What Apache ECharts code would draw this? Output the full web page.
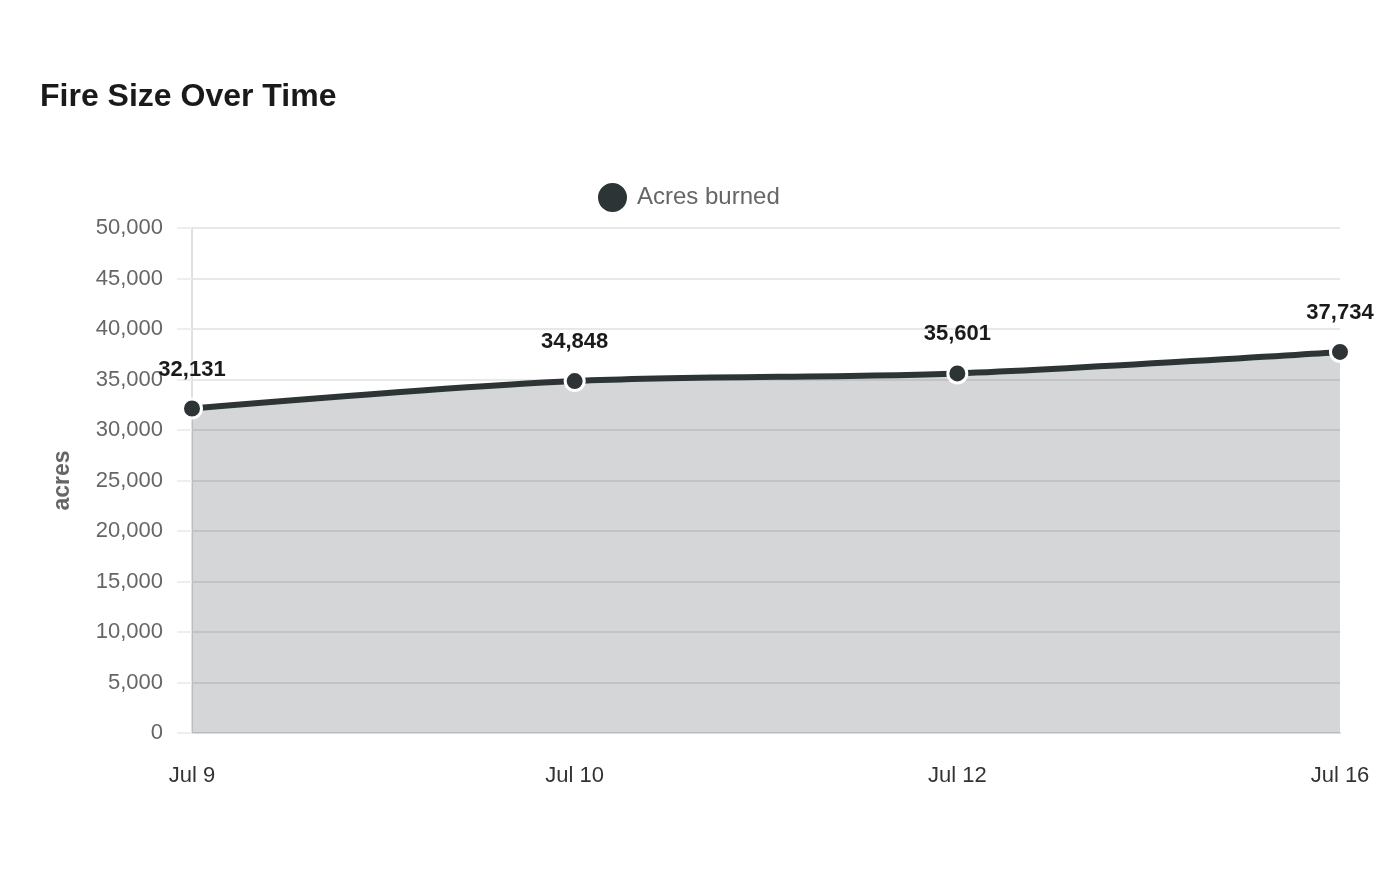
<!DOCTYPE html>
<html>
<head>
<meta charset="utf-8">
<script src="https://cdn.jsdelivr.net/npm/echarts@6/dist/echarts.min.js"></script>
<style>
  html, body { margin: 0; padding: 0; background: #fff; }
  #chart { width: 1400px; height: 880px; }
</style>
</head>
<body>
<div id="chart"></div>
<script>
// 火灾面积随时间变化
var days = ["Jul 9", "Jul 10", "Jul 12", "Jul 16"];
var acresBurned = [32131, 34848, 35601, 37734];
var yTicks = [0, 5000, 10000, 15000, 20000, 25000, 30000, 35000, 40000, 45000, 50000];

var lineColor = "#2d3436";
var fireChart = echarts.init(document.getElementById("chart"));

var fireOption = {
  backgroundColor: "#fff",
  title: {
    text: "Fire Size Over Time",
    left: 35,
    top: 76,
    textStyle: {
      fontFamily: "Liberation Sans",
      fontSize: 32,
      fontWeight: "bold",
      color: "#1a1a1a"
    }
  },
  legend: {
    data: ["Acres burned"],
    top: 176,
    left: 591,
    icon: "circle",
    itemWidth: 31,
    itemHeight: 31,
    itemGap: 8,
    textStyle: {
      fontFamily: "Liberation Sans",
      fontSize: 24,
      color: "#666",
      padding: [0, 0, 0, 4]
    }
  },
  grid: {
    left: 192,
    right: 60,
    top: 228,
    bottom: 147
  },
  xAxis: {
    type: "category",
    boundaryGap: false,
    data: days,
    axisLine: { lineStyle: { color: "#ddd", width: 2 } },
    axisTick: { show: false },
    axisLabel: {
      margin: 32,
      fontFamily: "Liberation Sans",
      fontSize: 22,
      color: "#333"
    }
  },
  yAxis: {
    type: "value",
    min: yTicks[0],
    max: yTicks[yTicks.length - 1],
    interval: yTicks[1] - yTicks[0],
    name: "acres",
    nameLocation: "middle",
    nameGap: 118,
    nameTextStyle: {
      fontFamily: "Liberation Sans",
      fontSize: 23,
      fontWeight: "bold",
      color: "#666"
    },
    axisLine: { show: true, lineStyle: { color: "#e0e0e0", width: 2 } },
    axisTick: { show: true, length: 15, lineStyle: { color: "#eee", width: 2 } },
    axisLabel: {
      margin: 29,
      fontFamily: "Liberation Sans",
      fontSize: 22,
      color: "#666",
      formatter: function (v) { return v.toLocaleString("en-US"); }
    },
    splitLine: { lineStyle: { color: "#e8e8e8", width: 2 } }
  },
  series: [
    {
      name: "Acres burned",
      type: "line",
      data: acresBurned,
      smooth: 0.3,
      symbol: "circle",
      symbolSize: 19,
      lineStyle: { color: lineColor, width: 6 },
      itemStyle: { color: lineColor, borderColor: "#fff", borderWidth: 3 },
      areaStyle: { color: lineColor, opacity: 0.2 },
      label: {
        show: true,
        position: "top",
        distance: 17,
        fontFamily: "Liberation Sans",
        fontSize: 22,
        fontWeight: "bold",
        color: "#1a1a1a",
        formatter: function (p) { return p.value.toLocaleString("en-US"); }
      },
      z: 3
    }
  ]
};

fireChart.setOption(fireOption);
</script>
</body>
</html>
